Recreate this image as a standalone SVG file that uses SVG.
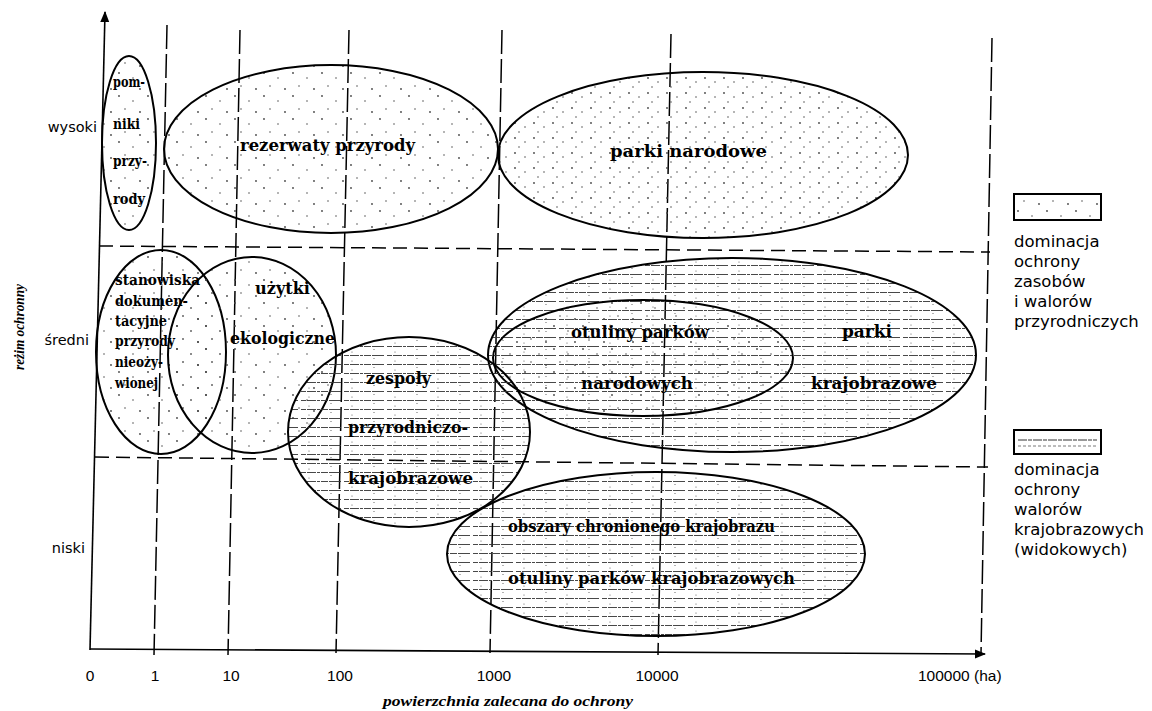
<svg xmlns="http://www.w3.org/2000/svg" width="1152" height="711" viewBox="0 0 1152 711">
<style>
.bg{fill:#fff}
.ax{stroke:#000;stroke-width:1.6;fill:none}
.vg{stroke:#000;stroke-width:1.5;fill:none;stroke-dasharray:24 5}
.hg{stroke:#000;stroke-width:1.5;fill:none;stroke-dasharray:14 7}
.el{stroke:#000;stroke-width:2;}
.dot{fill:url(#dots)}
.dot2{fill:url(#dots2)}
.hat{fill:url(#hatch)}
.lbl{font-family:"DejaVu Serif","Liberation Serif",serif;font-weight:bold;font-size:17px;fill:#000}
.sm{font-size:15px}
.yl{font-family:"DejaVu Sans","Liberation Sans",sans-serif;font-size:14.5px;fill:#000;text-anchor:end}
.tk{font-family:"Liberation Sans","Arial",sans-serif;font-size:15.5px;fill:#000;text-anchor:middle}
.lg{font-family:"DejaVu Sans","Liberation Sans",sans-serif;font-size:16.5px;fill:#000}
.ttl{font-family:"Liberation Serif","DejaVu Serif",serif;font-style:italic;font-weight:bold;font-size:14px;fill:#000}
</style>
<defs>
<pattern id="dots" width="29" height="23" patternUnits="userSpaceOnUse">
<circle cx="3" cy="4" r="0.9" fill="#444"/>
<circle cx="17" cy="9" r="0.8" fill="#555"/>
<circle cx="9" cy="17" r="0.8" fill="#555"/>
<circle cx="24" cy="20" r="0.9" fill="#444"/>
</pattern>
<pattern id="dots2" width="19" height="15" patternUnits="userSpaceOnUse">
<circle cx="2" cy="3" r="0.9" fill="#444"/>
<circle cx="12" cy="7" r="0.8" fill="#555"/>
<circle cx="6" cy="12" r="0.8" fill="#555"/>
</pattern>
<pattern id="hatch" width="43" height="9" patternUnits="userSpaceOnUse">
<line x1="0" y1="4.5" x2="43" y2="4.5" stroke="#333" stroke-width="0.9" stroke-dasharray="5 1 9 1 3 1 7 1 12 3"/>
<circle cx="8" cy="1" r="0.6" fill="#555"/>
<circle cx="30" cy="7.5" r="0.6" fill="#555"/>
</pattern>
<marker id="arr" viewBox="0 0 10 10" refX="9" refY="5" markerWidth="7" markerHeight="7" orient="auto">
<path d="M0,1 L10,5 L0,9 z" fill="#000"/>
</marker>
</defs>
<rect class="bg" x="0" y="0" width="1152" height="711"/>

<g id="connectors">
<line class="ax" x1="90" y1="650" x2="105" y2="12" marker-end="url(#arr)"/>
<line class="ax" x1="90" y1="649" x2="985" y2="654" marker-end="url(#arr)"/>
<line class="vg" x1="167" y1="25" x2="154" y2="655"/>
<line class="vg" x1="240" y1="30" x2="228" y2="655"/>
<line class="vg" x1="349" y1="30" x2="336" y2="653"/>
<line class="vg" x1="502" y1="30" x2="490" y2="653"/>
<line class="vg" x1="671" y1="34" x2="658" y2="655"/>
<line class="vg" x1="992" y1="38" x2="981" y2="654"/>
<line class="hg" x1="99" y1="246" x2="990" y2="252"/>
<line class="hg" x1="95" y1="457" x2="988" y2="467"/>
</g>

<g id="axis-labels">
<text class="yl" x="97" y="132">wysoki</text>
<text class="yl" x="89" y="345">średni</text>
<text class="yl" x="85" y="553">niski</text>
<text class="tk" x="90" y="681">0</text>
<text class="tk" x="155" y="681">1</text>
<text class="tk" x="231" y="681">10</text>
<text class="tk" x="340" y="681">100</text>
<text class="tk" x="494" y="681">1000</text>
<text class="tk" x="657" y="681">10000</text>
<text class="tk" x="918" y="681" style="text-anchor:start">100000 (ha)</text>
<text class="ttl" transform="translate(24,327) rotate(-90)" text-anchor="middle" textLength="86" lengthAdjust="spacingAndGlyphs">reżim ochronny</text>
<text class="ttl" x="383" y="706" textLength="250" lengthAdjust="spacingAndGlyphs">powierzchnia zalecana do ochrony</text>
</g>

<g id="n-rezerwaty">
<ellipse class="el dot" cx="331" cy="149" rx="167" ry="84"/>
<text class="lbl" x="240" y="151" textLength="175" lengthAdjust="spacingAndGlyphs">rezerwaty przyrody</text>
</g>
<g id="n-parki-narodowe">
<ellipse class="el dot2" cx="703" cy="155" rx="205" ry="83"/>
<text class="lbl" x="610" y="157" textLength="157" lengthAdjust="spacingAndGlyphs">parki  narodowe</text>
</g>
<g id="n-pomniki">
<ellipse class="el dot" cx="129" cy="143" rx="27" ry="87"/>
<text class="lbl sm" x="113" y="87" textLength="32" lengthAdjust="spacingAndGlyphs">pom-</text>
<text class="lbl sm" x="113" y="129" textLength="27" lengthAdjust="spacingAndGlyphs">niki</text>
<text class="lbl sm" x="113" y="166" textLength="34" lengthAdjust="spacingAndGlyphs">przy-</text>
<text class="lbl sm" x="113" y="204" textLength="32" lengthAdjust="spacingAndGlyphs">rody</text>
</g>
<g id="n-parki-krajobrazowe">
<ellipse class="el hat" cx="732" cy="355" rx="244" ry="97"/>
<text class="lbl" x="842" y="337" textLength="50" lengthAdjust="spacingAndGlyphs">parki</text>
<text class="lbl" x="811" y="389" textLength="126" lengthAdjust="spacingAndGlyphs">krajobrazowe</text>
</g>
<g id="n-otuliny-narodowych">
<ellipse class="el dot" cx="643" cy="358" rx="150" ry="58"/>
<text class="lbl" x="571" y="338" textLength="138" lengthAdjust="spacingAndGlyphs">otuliny parków</text>
<text class="lbl" x="581" y="389" textLength="112" lengthAdjust="spacingAndGlyphs">narodowych</text>
</g>
<g id="n-stanowiska">
<ellipse class="el dot" cx="161" cy="352" rx="65" ry="102"/>
<text class="lbl sm" x="115" y="285" textLength="85" lengthAdjust="spacingAndGlyphs">stanowiska</text>
<text class="lbl sm" x="115" y="306" textLength="73" lengthAdjust="spacingAndGlyphs">dokumen-</text>
<text class="lbl sm" x="115" y="326" textLength="52" lengthAdjust="spacingAndGlyphs">tacyjne</text>
<text class="lbl sm" x="115" y="346" textLength="60" lengthAdjust="spacingAndGlyphs">przyrody</text>
<text class="lbl sm" x="115" y="367" textLength="48" lengthAdjust="spacingAndGlyphs">nieoży-</text>
<text class="lbl sm" x="115" y="388" textLength="43" lengthAdjust="spacingAndGlyphs">wionej</text>
</g>
<g id="n-uzytki">
<ellipse class="el dot" cx="252" cy="355" rx="84" ry="98"/>
<text class="lbl" x="255" y="294" textLength="55" lengthAdjust="spacingAndGlyphs">użytki</text>
<text class="lbl" x="230" y="344" textLength="105" lengthAdjust="spacingAndGlyphs">ekologiczne</text>
</g>
<g id="n-zespoly">
<ellipse class="el hat" cx="409" cy="432" rx="121" ry="95"/>
<text class="lbl" x="366" y="384" textLength="65" lengthAdjust="spacingAndGlyphs">zespoły</text>
<text class="lbl" x="348" y="433" textLength="120" lengthAdjust="spacingAndGlyphs">przyrodniczo-</text>
<text class="lbl" x="348" y="484" textLength="125" lengthAdjust="spacingAndGlyphs">krajobrazowe</text>
</g>
<g id="n-obszary">
<ellipse class="el hat" cx="656" cy="554" rx="209" ry="82"/>
<text class="lbl" x="508" y="532" textLength="267" lengthAdjust="spacingAndGlyphs">obszary chronionego krajobrazu</text>
<text class="lbl" x="508" y="584" textLength="287" lengthAdjust="spacingAndGlyphs">otuliny parków krajobrazowych</text>
</g>

<g id="legend-przyrodnicze">
<rect x="1014" y="194" width="87" height="26" fill="url(#dots)" stroke="#000" stroke-width="2"/>
<text class="lg" x="1014" y="247">dominacja</text>
<text class="lg" x="1014" y="267">ochrony</text>
<text class="lg" x="1014" y="287">zasobów</text>
<text class="lg" x="1014" y="307">i walorów</text>
<text class="lg" x="1014" y="327">przyrodniczych</text>
</g>
<g id="legend-krajobrazowe">
<rect x="1014" y="430" width="87" height="24" fill="#fff" stroke="#000" stroke-width="2"/>
<line x1="1018" y1="440" x2="1097" y2="440" stroke="#333" stroke-width="1" stroke-dasharray="9 1 4 1"/>
<line x1="1018" y1="446" x2="1097" y2="446" stroke="#555" stroke-width="0.8" stroke-dasharray="3 2"/>
<text class="lg" x="1014" y="475">dominacja</text>
<text class="lg" x="1014" y="495">ochrony</text>
<text class="lg" x="1014" y="515">walorów</text>
<text class="lg" x="1014" y="535">krajobrazowych</text>
<text class="lg" x="1014" y="555">(widokowych)</text>
</g>
</svg>
